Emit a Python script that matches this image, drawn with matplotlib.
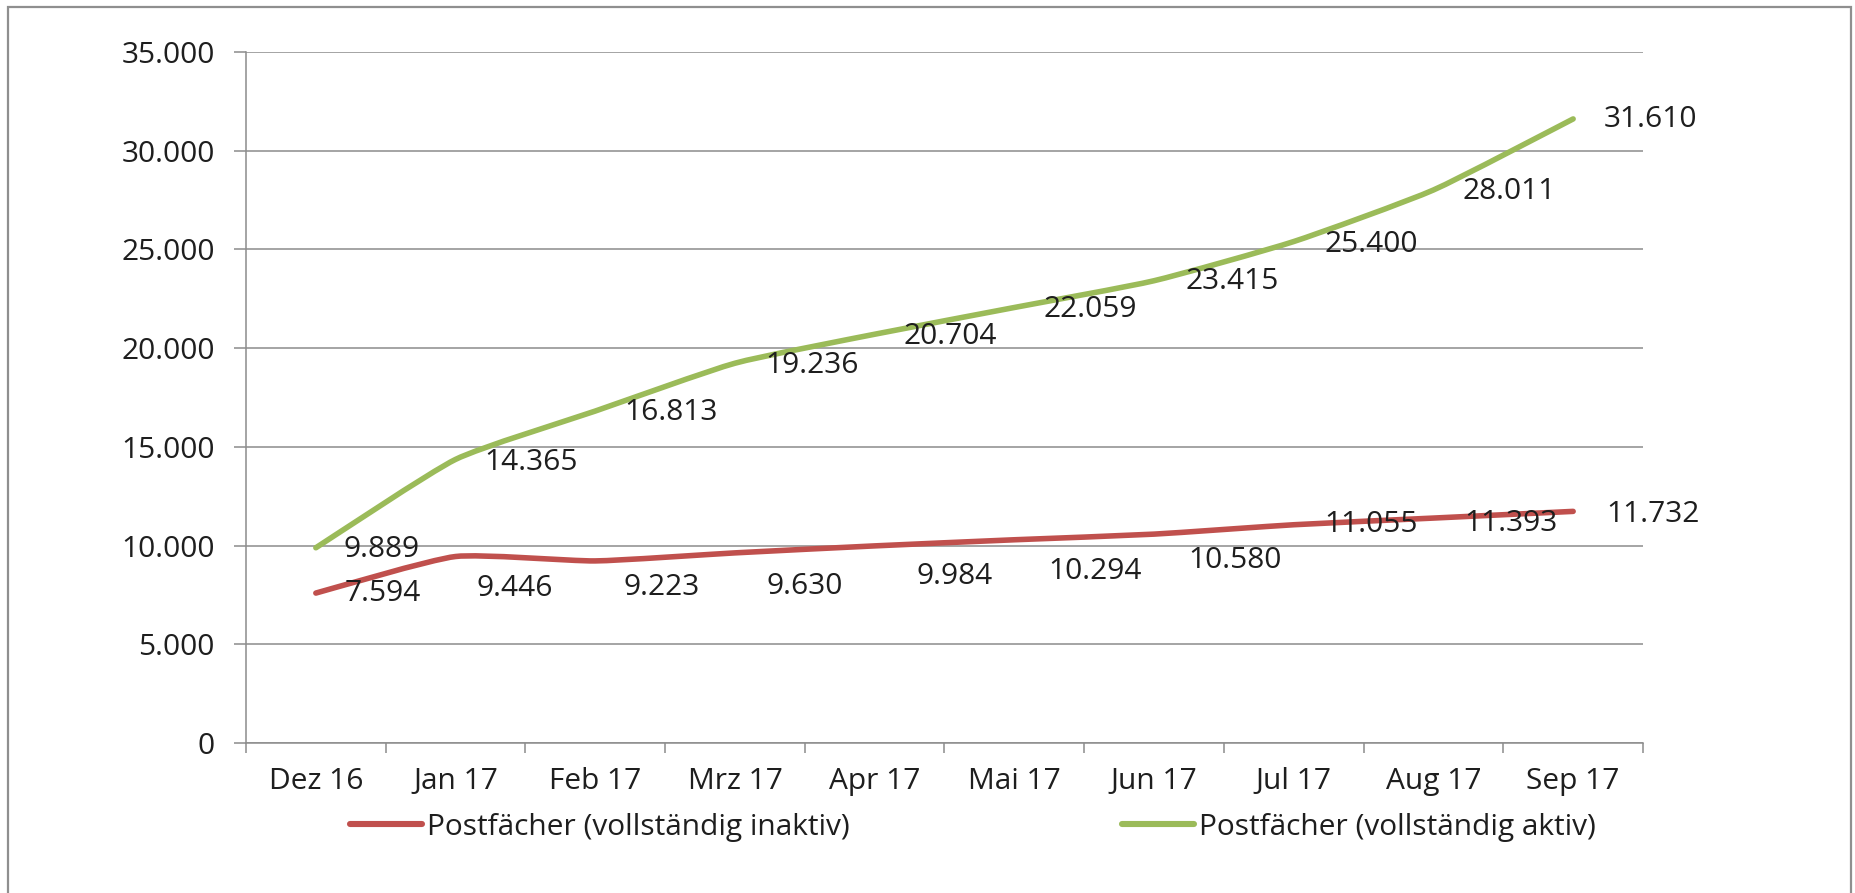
import matplotlib
matplotlib.use("Agg")
import matplotlib.pyplot as plt
from matplotlib.path import Path
from matplotlib.patches import PathPatch, Rectangle
from matplotlib.lines import Line2D
import numpy as np

plt.rcParams["font.family"] = ["Open Sans", "DejaVu Sans"]

# Monthly mailbox counts
months = ["Dez 16", "Jan 17", "Feb 17", "Mrz 17", "Apr 17",
          "Mai 17", "Jun 17", "Jul 17", "Aug 17", "Sep 17"]
inaktiv = [7594, 9446, 9223, 9630, 9984, 10294, 10580, 11055, 11393, 11732]
aktiv = [9889, 14365, 16813, 19236, 20704, 22059, 23415, 25400, 28011, 31610]
y_ticks = [0, 5000, 10000, 15000, 20000, 25000, 30000, 35000]
series_names = ["Postfächer (vollständig inaktiv)", "Postfächer (vollständig aktiv)"]

# label nudges in pixels (right of point, downward)
inaktiv_dx = [29, 21, 28, 32, 42, 34, 34, 31, 31, 33]
inaktiv_dy = [0, 32, 27, 34, 31, 32, 26, 0, 5, 3]
aktiv_dx = [28, 29, 29, 30, 29, 29, 31, 31, 29, 31]
aktiv_dy = [2, 3, 1, 2, 2, 2, 1, 3, 2, 1]

RED = "#c0504d"
GREEN = "#9bbb59"
GRID = "#8c8c8c"
TEXT = "#1e1e1e"
FS = 21.5


def de_fmt(v):
    return f"{v:,}".replace(",", ".")


def smooth_path(xs, ys, k=0.09):
    """Cubic Bezier through all points with Catmull-Rom style tangents."""
    pts = np.column_stack([xs, ys]).astype(float)
    n = len(pts)
    verts = [pts[0]]
    codes = [Path.MOVETO]
    for i in range(n - 1):
        p0 = pts[i - 1] if i > 0 else pts[i]
        p1 = pts[i]
        p2 = pts[i + 1]
        p3 = pts[i + 2] if i + 2 < n else pts[i + 1]
        c1 = p1 + (p2 - p0) * k
        c2 = p2 - (p3 - p1) * k
        verts += [c1, c2, p2]
        codes += [Path.CURVE4] * 3
    return Path(verts, codes)


W, H = 1856, 893
fig = plt.figure(figsize=(W / 100, H / 100), dpi=100)
fig.patch.set_facecolor("white")

# outer frame
fig.patches.append(Rectangle((8 / W, -0.05), (1851 - 8) / W, 1.05 - 7 / H,
                             transform=fig.transFigure, fill=False,
                             ec="#8f8f8f", lw=1.6, zorder=0))

ax = fig.add_axes([246 / W, 1 - 743 / H, (1643 - 246) / W, (743 - 52) / H])
ax.set_xlim(-0.5, len(months) - 0.5)
ax.set_ylim(y_ticks[0], y_ticks[-1])

ax.set_yticks(y_ticks)
ax.set_yticklabels([de_fmt(v) for v in y_ticks])
ax.set_xticks(np.arange(-0.5, len(months), 1.0))
ax.set_xticklabels([])
ax.set_xticks(np.arange(len(months)), minor=True)
ax.set_xticklabels(months, minor=True)

ax.tick_params(axis="x", which="major", length=7.2, width=1.1, color=GRID,
               direction="out", labelbottom=False)
ax.tick_params(axis="x", which="minor", length=0, pad=17,
               labelsize=FS, labelcolor=TEXT)
ax.tick_params(axis="y", which="major", length=8.6, width=1.1, color=GRID,
               direction="out", pad=14, labelsize=FS, labelcolor=TEXT)

ax.yaxis.grid(True, color=GRID, lw=1.1)
ax.set_axisbelow(True)
for side in ("top", "right"):
    ax.spines[side].set_visible(False)
for side in ("left", "bottom"):
    ax.spines[side].set_color(GRID)
    ax.spines[side].set_linewidth(1.1)

x = np.arange(len(months))
for vals, col, dxs, dys in ((inaktiv, RED, inaktiv_dx, inaktiv_dy),
                            (aktiv, GREEN, aktiv_dx, aktiv_dy)):
    ax.add_patch(PathPatch(smooth_path(x, vals), fill=False, ec=col, lw=4.0,
                           capstyle="round", joinstyle="round", zorder=3))
    for xi, v, dx, dy in zip(x, vals, dxs, dys):
        ax.annotate(de_fmt(v), xy=(xi, v), xytext=(dx, -dy),
                    textcoords="offset pixels", ha="left", va="center",
                    fontsize=FS, color=TEXT, zorder=4)

for name, col, xpos in ((series_names[0], RED, 350), (series_names[1], GREEN, 1122)):
    fig.legend(handles=[Line2D([], [], color=col, lw=4.4, solid_capstyle="round")],
               labels=[name], loc="center left",
               bbox_to_anchor=(xpos / W, 1 - 827 / H),
               frameon=False, fontsize=FS, labelcolor=TEXT,
               borderpad=0, borderaxespad=0, handlelength=2.4,
               handletextpad=0.17)

fig.savefig("out.png", dpi=100, facecolor="white")
